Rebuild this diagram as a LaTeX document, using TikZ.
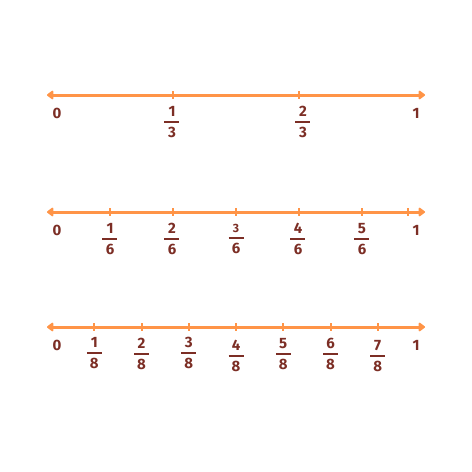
\documentclass[tikz,border=0pt]{standalone}
\usepackage{fontspec}
\setmainfont{Fira Sans}
\usetikzlibrary{calc,arrows.meta}
\definecolor{lineorange}{HTML}{FF9447}
\definecolor{labelbrown}{HTML}{7C2E25}
\tikzset{numline/.style={
  draw=lineorange,line width=3pt,
  {Triangle[length=7pt,width=10pt,round]}-{Triangle[length=7pt,width=10pt,round]}
},
tickmark/.style={draw=lineorange,line width=2pt},
endlbl/.style={text=labelbrown,font=\fontsize{15}{10}\selectfont\bfseries,inner sep=0pt},
fraclbl/.style={text=labelbrown,font=\fontsize{15}{10}\selectfont\bfseries,align=center,inner sep=0pt}
}
\newcommand{\fraclabel}[2]{#1\\[-4pt]\rule{15pt}{1.8pt}\\[3pt]#2}

\begin{document}
\begin{tikzpicture}[x=1pt,y=-1pt]
  \useasboundingbox (0,0) rectangle (472,472);
  % thirds
  \coordinate (A0) at (47,95);
  \coordinate (A1) at (425,95);
  \draw[numline] (A0)--(A1);
  \draw[tickmark] ($(A0)!1/3!(A1)+(0,-4)$)--($(A0)!1/3!(A1)+(0,4)$);
  \draw[tickmark] ($(A0)!2/3!(A1)+(0,-4)$)--($(A0)!2/3!(A1)+(0,4)$);
  \node[endlbl] (a0) at ($(A0)+(10,18)$) {0};
  \node[endlbl] (a1) at ($(A1)+(-9,18)$) {1};
  \node[fraclbl] (a13) at ($(A0)!1/3!(A1)+(-1,27)$) {\fraclabel{1}{3}};
  \node[fraclbl] (a23) at ($(A0)!2/3!(A1)+(4,27)$) {\fraclabel{2}{3}};

  % sixths
  \coordinate (B0) at (47,212);
  \coordinate (B1) at (425,212);
  \draw[numline] (B0)--(B1);
  \draw[tickmark] ($(B0)!1/6!(B1)+(0,-4)$)--($(B0)!1/6!(B1)+(0,4)$);
  \draw[tickmark] ($(B0)!2/6!(B1)+(0,-4)$)--($(B0)!2/6!(B1)+(0,4)$);
  \draw[tickmark] ($(B0)!3/6!(B1)+(0,-4)$)--($(B0)!3/6!(B1)+(0,4)$);
  \draw[tickmark] ($(B0)!4/6!(B1)+(0,-4)$)--($(B0)!4/6!(B1)+(0,4)$);
  \draw[tickmark] ($(B0)!5/6!(B1)+(0,-4)$)--($(B0)!5/6!(B1)+(0,4)$);
  \draw[tickmark] ($(B1)+(-17,-4)$)--($(B1)+(-17,4)$);
  \node[endlbl] (b0) at ($(B0)+(10,18)$) {0};
  \node[endlbl] (b1) at ($(B1)+(-9,18)$) {1};
  \node[fraclbl] (b16) at ($(B0)!1/6!(B1)+(0,27)$) {\fraclabel{1}{6}};
  \node[fraclbl] (b26) at ($(B0)!2/6!(B1)+(-1,27)$) {\fraclabel{2}{6}};
  \node[fraclbl] (b36) at ($(B0)!3/6!(B1)+(0,27)$) {\fraclabel{{\fontsize{12}{10}\selectfont 3}}{6}};
  \node[fraclbl] (b46) at ($(B0)!4/6!(B1)+(-1,27)$) {\fraclabel{4}{6}};
  \node[fraclbl] (b56) at ($(B0)!5/6!(B1)+(0,27)$) {\fraclabel{5}{6}};

  % eighths
  \coordinate (C0) at (47,327);
  \coordinate (C1) at (425,327);
  \draw[numline] (C0)--(C1);
  \draw[tickmark] ($(C0)!1/8!(C1)+(0,-4)$)--($(C0)!1/8!(C1)+(0,4)$);
  \draw[tickmark] ($(C0)!2/8!(C1)+(0,-4)$)--($(C0)!2/8!(C1)+(0,4)$);
  \draw[tickmark] ($(C0)!3/8!(C1)+(0,-4)$)--($(C0)!3/8!(C1)+(0,4)$);
  \draw[tickmark] ($(C0)!4/8!(C1)+(0,-4)$)--($(C0)!4/8!(C1)+(0,4)$);
  \draw[tickmark] ($(C0)!5/8!(C1)+(0,-4)$)--($(C0)!5/8!(C1)+(0,4)$);
  \draw[tickmark] ($(C0)!6/8!(C1)+(0,-4)$)--($(C0)!6/8!(C1)+(0,4)$);
  \draw[tickmark] ($(C0)!7/8!(C1)+(0,-4)$)--($(C0)!7/8!(C1)+(0,4)$);
  \node[endlbl] (c0) at ($(C0)+(10,18)$) {0};
  \node[endlbl] (c1) at ($(C1)+(-9,18)$) {1};
  \node[fraclbl] (c18) at ($(C0)!1/8!(C1)+(0,26)$) {\fraclabel{1}{8}};
  \node[fraclbl] (c28) at ($(C0)!2/8!(C1)+(0,27)$) {\fraclabel{2}{8}};
  \node[fraclbl] (c38) at ($(C0)!3/8!(C1)+(0,26)$) {\fraclabel{3}{8}};
  \node[fraclbl] (c48) at ($(C0)!4/8!(C1)+(0,29)$) {\fraclabel{4}{8}};
  \node[fraclbl] (c58) at ($(C0)!5/8!(C1)+(0,27)$) {\fraclabel{5}{8}};
  \node[fraclbl] (c68) at ($(C0)!6/8!(C1)+(0,27)$) {\fraclabel{6}{8}};
  \node[fraclbl] (c78) at ($(C0)!7/8!(C1)+(0,29)$) {\fraclabel{7}{8}};
\end{tikzpicture}
\end{document}
